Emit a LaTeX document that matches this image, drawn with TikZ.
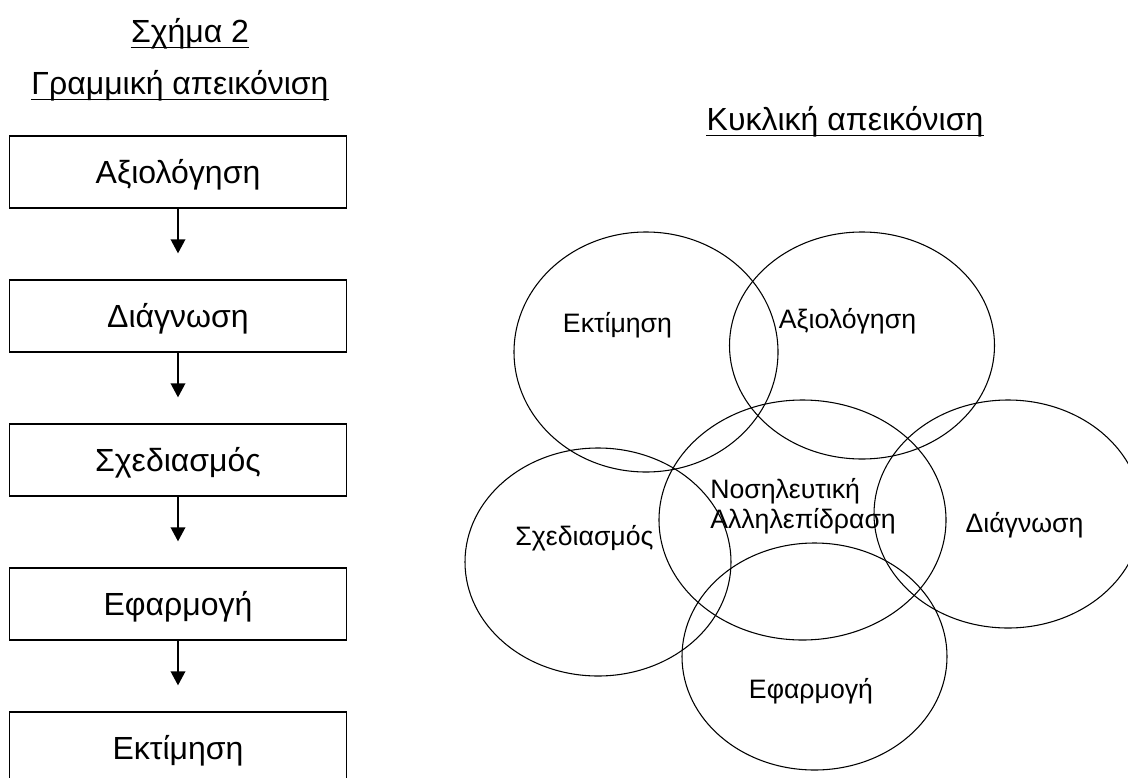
\documentclass[tikz,border=0pt]{standalone}
\usepackage{fontspec}
\setmainfont{Liberation Sans}
\usetikzlibrary{arrows.meta,shapes.geometric}
\begin{document}
\begin{tikzpicture}[x=0.75pt,y=-0.75pt,
  stepbox/.style={draw, line width=1pt, minimum width=253pt, minimum height=54pt, inner sep=0pt, text height=17pt, text depth=0pt, font=\fontsize{24}{28}\selectfont},
  flowarrow/.style={line width=1pt, -{Triangle[width=11pt,length=10.5pt]}, shorten >=19.5pt},
  title/.style={inner sep=0pt, anchor=base, font=\fontsize{24}{28}\selectfont},
  uline/.style={line width=1.2pt},
  bubble/.style={draw, ellipse, line width=0.8pt, inner sep=0pt},
  btext/.style={inner sep=0pt, anchor=base, font=\fontsize{20}{24}\selectfont}]
\useasboundingbox (0,0) rectangle (1128,778);
\clip (0,0) rectangle (1128,778);

% titles
\node[title] (t1) at (190,42) {Σχήμα 2};
\node[title] (t2) at (180,94) {Γραμμική απεικόνιση};
\node[title] (t3) at (845,130) {Κυκλική απεικόνιση};
\foreach \t in {t1,t2,t3}
  \draw[uline] ([yshift=-4pt]\t.base west) -- ([yshift=-4pt]\t.base east);

% linear chain
\node[stepbox] (b1) at (178,172) {Αξιολόγηση};
\node[stepbox] (b2) at (178,316) {Διάγνωση};
\node[stepbox] (b3) at (178,460) {Σχεδιασμός};
\node[stepbox] (b4) at (178,604) {Εφαρμογή};
\node[stepbox] (b5) at (178,748) {Εκτίμηση};
\foreach \a/\b in {b1/b2,b2/b3,b3/b4,b4/b5}
  \draw[flowarrow] (\a.south) -- (\b.north);

% circular representation
\node[bubble, minimum width=198pt, minimum height=180pt] (e1) at (646,352) {};
\node[bubble, minimum width=198.75pt, minimum height=170.25pt] (e2) at (862,345.5) {};
\node[bubble, minimum width=215.25pt, minimum height=180pt] (e3) at (802.5,520) {};
\node[bubble, minimum width=199.5pt, minimum height=171pt] (e4) at (598,562) {};
\node[bubble, minimum width=201pt, minimum height=171pt] (e5) at (1008,514) {};
\node[bubble, minimum width=198.75pt, minimum height=170.25pt] (e6) at (814.5,656.5) {};

\node[btext] (l1) at (617.5,332) {Εκτίμηση};
\node[btext] (l2) at (847.5,328) {Αξιολόγηση};
\node[btext, anchor=base west] (l3) at (710,498) {Νοσηλευτική};
\node[btext, anchor=base west] (l4) at (710,528) {Αλληλεπίδραση};
\node[btext] (l5) at (1024.5,532) {Διάγνωση};
\node[btext] (l6) at (584.5,545) {Σχεδιασμός};
\node[btext] (l7) at (811,698) {Εφαρμογή};
\end{tikzpicture}
\end{document}
